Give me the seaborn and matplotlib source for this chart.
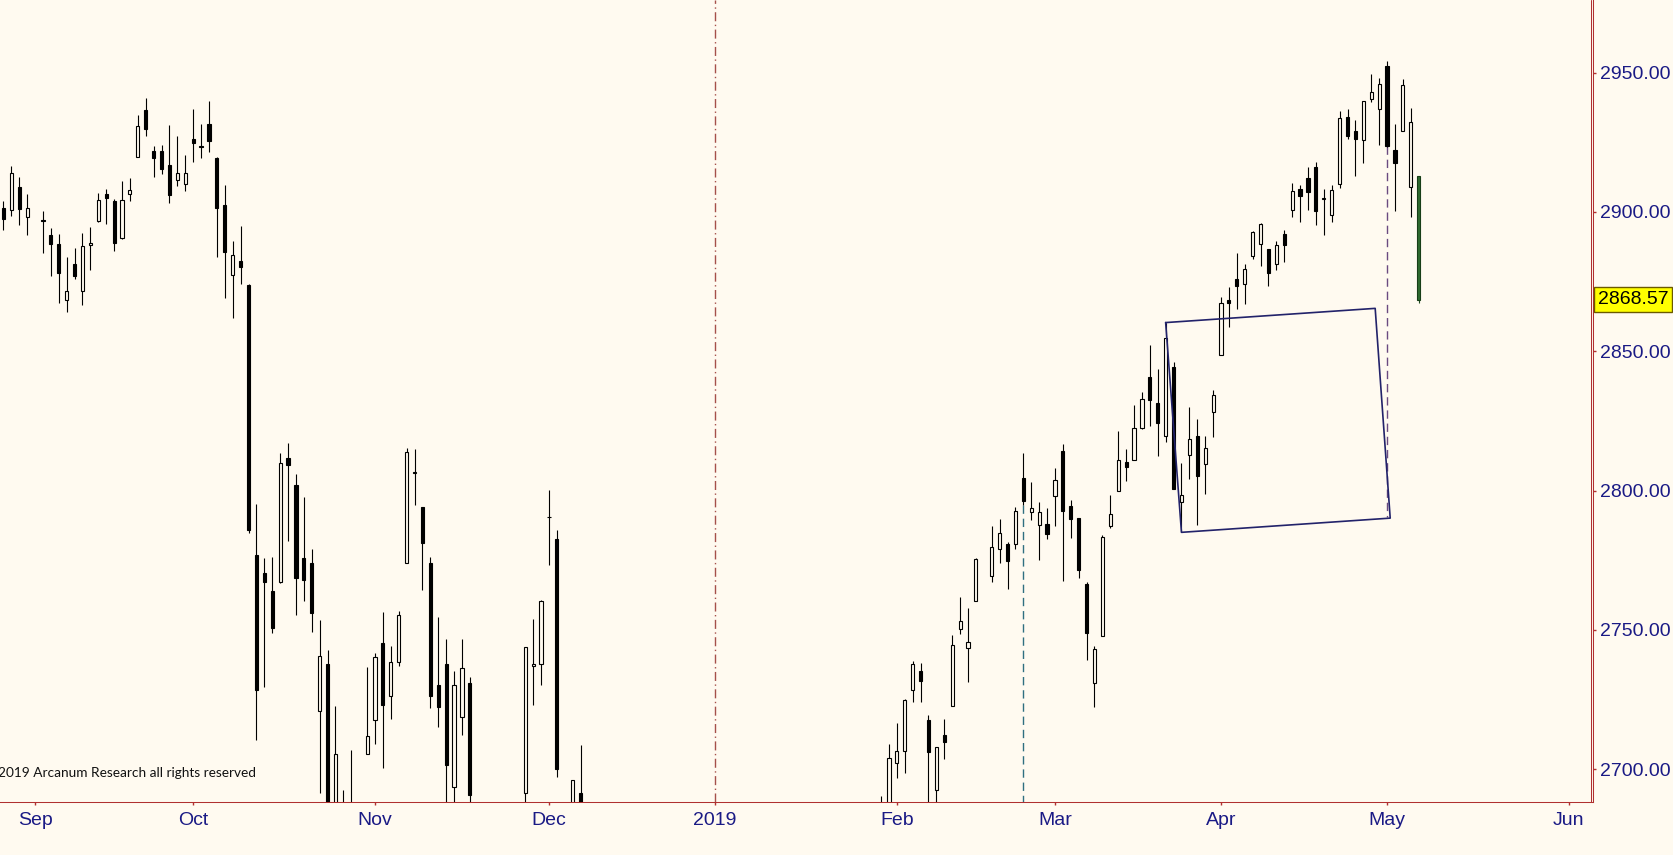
import numpy as np
import pandas as pd
import seaborn as sns
import matplotlib.pyplot as plt
from matplotlib.lines import Line2D
from matplotlib.ticker import FormatStrFormatter
from matplotlib.transforms import blended_transform_factory

# S&P 500 daily bars, 28 Aug 2018 -> 7 May 2019 (last bar is intraday)
first_day = "2018-08-28"
last_day = "2019-05-07"
# weekdays the market was shut: they keep an empty slot on the chart
closed_days = ["2018-09-03", "2018-11-22", "2018-12-05", "2018-12-25",
               "2019-01-01", "2019-01-21", "2019-02-18"]
# weekday with no slot at all
no_slot = ["2019-04-19"]

opens = [
    # Aug
    2901.45, 2900.62, 2908.94, 2898.37,
    # Sep
    2896.96, 2891.59, 2888.64, 2868.26, 2881.39, 2871.57, 2888.29, 2896.85, 2906.38, 2903.83,
    2890.74, 2906.60, 2919.73, 2936.76, 2921.83, 2921.75, 2916.98, 2911.65, 2910.03,
    # Oct
    2926.29, 2923.80, 2931.69, 2919.35, 2902.54, 2877.53, 2882.51, 2873.90, 2776.87, 2770.54,
    2763.83, 2767.05, 2811.67, 2802.00, 2775.66, 2773.94, 2721.03, 2737.87, 2674.88, 2667.86,
    2682.65, 2640.68, 2705.60,
    # Nov
    2717.58, 2745.45, 2726.37, 2738.40, 2774.13, 2806.38, 2794.10, 2773.93, 2730.05, 2737.90,
    2693.52, 2718.54, 2730.74, 2654.60, 2657.74, 2633.36, 2649.97, 2663.75, 2691.45, 2736.97,
    2737.76,
    # Dec
    2790.50, 2782.43, 2663.51, 2691.26, 2630.86, 2664.44, 2658.23, 2658.70, 2629.68, 2590.75,
    2559.90, 2547.05, 2496.77, 2465.38, 2400.56, 2363.12, 2442.50, 2498.77, 2498.94,
    # Jan
    2476.96, 2491.92, 2474.33, 2535.61, 2568.11, 2580.00, 2573.51, 2588.11, 2580.31, 2585.10,
    2614.75, 2609.28, 2651.27, 2657.88, 2643.48, 2638.84, 2657.44, 2644.97, 2644.89, 2653.62,
    2685.49,
    # Feb
    2702.32, 2706.49, 2728.34, 2735.05, 2717.53, 2692.36, 2712.40, 2722.61, 2750.30, 2743.50,
    2760.24, 2769.28, 2779.05, 2780.67, 2780.67, 2804.35, 2792.36, 2787.50, 2788.11,
    # Mar
    2798.22, 2814.37, 2794.41, 2790.27, 2766.53, 2730.79, 2747.61, 2787.34, 2799.78, 2810.38,
    2810.79, 2822.61, 2840.76, 2831.34, 2819.72, 2844.52, 2796.01, 2812.66, 2819.72, 2809.40,
    2828.27,
    # Apr
    2848.63, 2868.24, 2876.09, 2873.99, 2884.16, 2888.46, 2886.58, 2881.37, 2891.92, 2900.86,
    2908.32, 2912.26, 2916.04, 2904.81, 2898.78, 2909.99, 2934.00, 2928.99, 2925.81, 2940.58,
    2937.14,
    # May
    2952.33, 2922.16, 2929.21, 2908.89, 2913.03,
]
highs = [
    2903.77, 2916.50, 2912.46, 2906.32,
    2900.18, 2894.21, 2892.05, 2883.81, 2886.93, 2892.52, 2894.65, 2906.76, 2908.30, 2904.65,
    2911.17, 2912.36, 2934.80, 2940.91, 2923.79, 2923.95, 2931.15, 2927.22, 2920.53,
    2937.06, 2931.42, 2939.86, 2919.78, 2909.64, 2889.45, 2894.83, 2874.02, 2795.14, 2775.77,
    2775.99, 2813.46, 2816.94, 2806.04, 2797.77, 2778.94, 2753.59, 2742.59, 2722.70, 2692.38,
    2706.85, 2685.43, 2736.69,
    2741.67, 2756.55, 2744.27, 2756.82, 2815.15, 2814.75, 2794.10, 2775.99, 2754.60, 2746.80,
    2735.38, 2746.75, 2733.16, 2669.44, 2670.73, 2647.55, 2674.35, 2682.53, 2744.00, 2753.75,
    2760.88,
    2800.18, 2785.93, 2696.15, 2708.54, 2647.51, 2674.35, 2685.44, 2670.19, 2635.07, 2601.13,
    2573.99, 2585.29, 2509.63, 2504.41, 2410.34, 2467.76, 2489.10, 2520.27, 2509.24,
    2519.49, 2493.14, 2538.07, 2566.16, 2579.82, 2595.32, 2597.82, 2596.27, 2589.32, 2613.08,
    2625.76, 2645.06, 2675.47, 2657.88, 2653.19, 2647.20, 2672.38, 2644.97, 2650.93, 2690.44,
    2708.95,
    2716.66, 2724.99, 2738.98, 2738.08, 2719.32, 2708.07, 2718.05, 2748.19, 2761.85, 2757.90,
    2775.66, 2787.33, 2789.88, 2781.58, 2794.20, 2813.49, 2803.12, 2795.76, 2793.73,
    2808.02, 2816.88, 2796.44, 2790.27, 2767.25, 2744.13, 2784.00, 2798.32, 2821.24, 2815.00,
    2830.73, 2835.41, 2852.42, 2843.54, 2860.31, 2846.16, 2809.79, 2829.87, 2825.56, 2819.71,
    2836.03,
    2869.40, 2872.90, 2885.25, 2881.28, 2893.24, 2895.95, 2886.88, 2889.71, 2893.42, 2910.54,
    2909.60, 2916.06, 2918.00, 2908.40, 2909.51, 2936.31, 2936.83, 2933.10, 2939.88, 2949.52,
    2948.22,
    2954.13, 2931.68, 2947.85, 2937.32, 2913.03,
]
lows = [
    2893.50, 2898.40, 2895.22, 2891.73,
    2885.13, 2876.92, 2867.29, 2864.12, 2875.94, 2866.78, 2879.20, 2896.39, 2895.77, 2886.16,
    2890.43, 2903.82, 2919.73, 2927.11, 2912.63, 2913.70, 2903.28, 2909.27, 2907.50,
    2917.91, 2919.37, 2921.36, 2883.92, 2869.29, 2862.08, 2874.27, 2784.86, 2710.51, 2729.44,
    2749.03, 2766.91, 2781.81, 2755.18, 2760.27, 2749.22, 2691.43, 2651.89, 2667.84, 2628.16,
    2603.54, 2635.34, 2705.60,
    2708.85, 2700.44, 2717.94, 2737.08, 2774.13, 2794.99, 2764.24, 2722.00, 2714.98, 2685.75,
    2670.75, 2712.16, 2681.09, 2631.52, 2649.82, 2631.09, 2649.97, 2655.89, 2684.38, 2722.94,
    2730.05,
    2773.38, 2697.18, 2621.53, 2623.14, 2583.23, 2621.30, 2650.26, 2637.27, 2593.84, 2530.54,
    2528.71, 2488.96, 2441.18, 2408.55, 2351.10, 2346.58, 2397.94, 2472.89, 2482.82,
    2467.47, 2443.96, 2474.33, 2524.56, 2547.56, 2568.89, 2562.02, 2577.40, 2570.41, 2585.10,
    2612.68, 2606.36, 2647.58, 2617.27, 2612.86, 2627.01, 2657.33, 2624.06, 2631.05, 2648.34,
    2678.65,
    2696.88, 2698.75, 2724.03, 2724.15, 2687.26, 2681.83, 2703.79, 2722.61, 2748.63, 2731.23,
    2760.24, 2767.29, 2774.06, 2764.55, 2779.11, 2794.98, 2789.47, 2775.13, 2782.51,
    2787.38, 2767.66, 2782.97, 2768.69, 2739.09, 2722.27, 2747.61, 2786.73, 2799.78, 2803.46,
    2810.79, 2821.99, 2823.27, 2812.43, 2817.38, 2800.47, 2785.02, 2803.99, 2787.72, 2798.77,
    2819.23,
    2848.63, 2858.75, 2865.17, 2867.14, 2882.99, 2880.78, 2873.33, 2879.13, 2881.99, 2898.37,
    2896.48, 2900.71, 2895.45, 2891.90, 2896.35, 2908.53, 2926.31, 2912.84, 2917.56, 2939.35,
    2924.11,
    2923.36, 2900.50, 2929.21, 2898.21, 2867.20,
]
closes = [
    2897.52, 2914.04, 2901.13, 2901.52,
    2896.72, 2888.60, 2878.05, 2871.68, 2877.13, 2887.89, 2888.92, 2904.18, 2904.98, 2888.80,
    2904.31, 2907.95, 2930.75, 2929.67, 2919.37, 2915.56, 2905.97, 2914.00, 2913.98,
    2924.59, 2923.43, 2925.51, 2901.61, 2885.57, 2884.43, 2880.34, 2785.68, 2728.37, 2767.13,
    2750.79, 2809.92, 2809.21, 2768.78, 2767.78, 2755.88, 2740.69, 2656.10, 2705.57, 2658.69,
    2641.25, 2682.63, 2711.74,
    2740.37, 2723.06, 2738.31, 2755.45, 2813.89, 2806.83, 2781.01, 2726.22, 2722.18, 2701.58,
    2730.20, 2736.27, 2690.73, 2641.89, 2649.93, 2632.56, 2673.45, 2682.17, 2743.79, 2737.80,
    2760.17,
    2790.37, 2700.06, 2695.95, 2633.08, 2637.72, 2636.78, 2651.07, 2650.54, 2599.95, 2545.94,
    2546.16, 2506.96, 2467.42, 2416.62, 2351.10, 2467.70, 2488.83, 2485.74, 2506.85,
    2510.03, 2447.89, 2531.94, 2549.69, 2574.41, 2584.96, 2596.64, 2596.26, 2582.61, 2610.30,
    2616.10, 2635.96, 2670.71, 2632.90, 2638.70, 2642.33, 2664.76, 2643.85, 2640.00, 2681.05,
    2704.10,
    2706.53, 2724.87, 2737.70, 2731.61, 2706.05, 2707.88, 2709.80, 2744.73, 2753.03, 2745.73,
    2775.60, 2779.76, 2784.70, 2774.88, 2792.67, 2796.11, 2793.90, 2792.38, 2784.49,
    2803.69, 2792.81, 2789.65, 2771.45, 2748.93, 2743.07, 2783.30, 2791.52, 2810.92, 2808.48,
    2822.48, 2832.94, 2832.57, 2824.23, 2854.88, 2800.71, 2798.36, 2818.46, 2805.37, 2815.44,
    2834.40,
    2867.19, 2867.24, 2873.40, 2879.39, 2892.74, 2895.77, 2878.20, 2888.21, 2888.32, 2907.41,
    2905.58, 2907.06, 2900.45, 2905.03, 2907.97, 2933.68, 2927.25, 2926.17, 2939.88, 2943.03,
    2945.83,
    2923.73, 2917.52, 2945.64, 2932.47, 2868.57,
]

month_starts = ["2018-09-03", "2018-10-01", "2018-11-01", "2018-12-03", "2019-01-01",
                "2019-02-01", "2019-03-01", "2019-04-01", "2019-05-01", "2019-06-03"]
month_labels = ["Sep", "Oct", "Nov", "Dec", "2019", "Feb", "Mar", "Apr", "May", "Jun"]
price_ticks = [2700, 2750, 2800, 2850, 2900, 2950]

# hand drawn studies
year_mark = "2019-01-01"
low_mark = ("2019-02-25", 2794.98)
top_mark = ("2019-05-01", 2923.73, 2790.5)
channel_slots = [143.0, 169.5, 171.4, 145.0]
channel_prices = [2860.3, 2865.4, 2790.1, 2785.0]
note = "2019 Arcanum Research all rights reserved"

bg = "#FFFAF0"
red = "#b03030"
navy = "#1a1a85"

sns.set_theme(style="white", rc={"figure.facecolor": bg, "axes.facecolor": bg})
plt.rcParams["font.family"] = ["Liberation Sans", "DejaVu Sans"]

# one slot per weekday, Sep 3 2018 = slot 0
slots = pd.bdate_range("2018-08-27", "2019-06-07")
slots = slots[~slots.isin(pd.to_datetime(no_slot))]
slot_pos = pd.Series(np.arange(len(slots)), index=slots, dtype=float)
slot_pos = slot_pos - slot_pos[pd.Timestamp("2018-09-03")]

days = slots[(slots >= first_day) & (slots <= last_day) & ~slots.isin(pd.to_datetime(closed_days))]
df = pd.DataFrame({"x": slot_pos[days].values, "open": opens, "high": highs,
                   "low": lows, "close": closes})

W, H = 1674, 855
fig = plt.figure(figsize=(W / 100, H / 100), dpi=100)
ax_right, ax_bottom = 1593.4, 801.7
ax = fig.add_axes([0, (H - ax_bottom) / H, ax_right / W, ax_bottom / H])
ax.set_xlim(-4.43, 197.1)
ax.set_ylim(2688.3, 2976.1)

bars = df.iloc[:-1]
up = bars[bars.close >= bars.open]
down = bars[bars.close < bars.open]
ax.vlines(bars.x, bars.low, bars.high, color="black", lw=0.8, zorder=2)
ax.bar(up.x, (up.close - up.open).clip(lower=0.25), bottom=up.open, width=0.4,
       facecolor=bg, edgecolor="black", lw=0.8, zorder=3)
ax.bar(down.x, down.open - down.close, bottom=down.close, width=0.4,
       color="black", edgecolor="black", lw=0.8, zorder=3)

last = df.iloc[-1]
ax.vlines(last.x, last.low, last.high, color="#1d4a1d", lw=0.8, zorder=2)
ax.bar(last.x, last.open - last.close, bottom=last.close, width=0.3,
       color="#2f6b2f", edgecolor="#173d17", lw=0.8, zorder=3)

# studies
ax.axvline(slot_pos[year_mark], color="#a5504a", lw=1.0, dashes=(6.5, 2.5, 1, 2.5), zorder=1)
xl = slot_pos[low_mark[0]]
ax.plot([xl, xl], [low_mark[1], 2680], color="#2f6f80", lw=1.0, dashes=(6, 3.5), zorder=1)
xt = slot_pos[top_mark[0]]
ax.plot([xt, xt], [top_mark[1], top_mark[2]], color="#6a4a80", lw=1.0, dashes=(6, 3.5), zorder=1)
ax.plot(channel_slots + channel_slots[:1], channel_prices + channel_prices[:1],
        color="#22226a", lw=1.2, zorder=4)

# axes dressing
for side in ["left", "top"]:
    ax.spines[side].set_visible(False)
for side in ["bottom", "right"]:
    ax.spines[side].set_color(red)
    ax.spines[side].set_linewidth(0.75)
fig.add_artist(Line2D([1590.6 / W] * 2, [(H - ax_bottom) / H, 1], color=red, lw=0.75,
                      transform=fig.transFigure))

ax.yaxis.tick_right()
ax.set_yticks(price_ticks)
ax.yaxis.set_major_formatter(FormatStrFormatter("%.2f"))
ax.tick_params(axis="y", colors=red, labelcolor=navy, length=2.5, width=1,
               labelsize=14, pad=2, direction="out", right=True, left=False)
ax.set_xticks([slot_pos[d] for d in month_starts])
ax.set_xticklabels(month_labels)
ax.tick_params(axis="x", colors=red, labelcolor=navy, length=2.5, width=1,
               labelsize=14, pad=5, direction="out", bottom=True)
ax.grid(False)

trans = blended_transform_factory(ax.transAxes, ax.transData)
ax.text(1.0028, last.close, f"{last.close:.2f}", transform=trans, va="center", ha="left",
        fontsize=14, color="black", clip_on=False,
        bbox=dict(boxstyle="square,pad=0.2", fc="#FFFF00", ec="#6b5a00", lw=1))

ax.text(-0.0012, (ax_bottom - 773) / ax_bottom, note, transform=ax.transAxes,
        ha="left", va="center", fontsize=9.8, family=["Lato", "DejaVu Sans"], color="#111111")

fig.savefig("out.png", dpi=100, facecolor=bg)
